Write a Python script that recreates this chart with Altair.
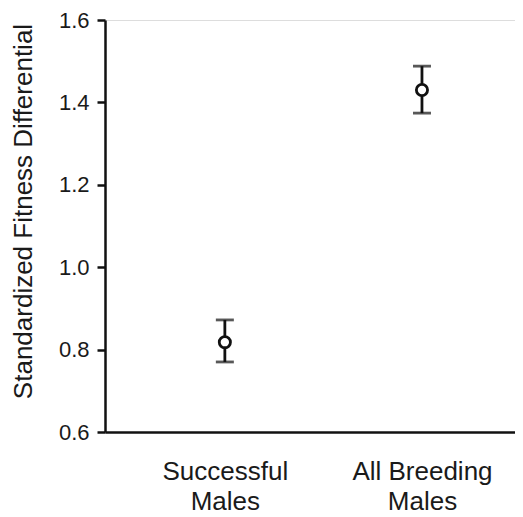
import altair as alt
import pandas as pd

categories = ["Successful\nMales", "All Breeding\nMales"]
means = [0.818, 1.430]
lows = [0.770, 1.374]
highs = [0.872, 1.488]
y_ticks = [0.6, 0.8, 1.0, 1.2, 1.4, 1.6]

df = pd.DataFrame({"group": categories, "mean": means, "low": lows, "high": highs})

FONT = "Liberation Sans"
INK = "#111111"
TXT = "#1a1a1a"

x_enc = alt.X(
    "group:N",
    sort=categories,
    scale=alt.Scale(type="point", padding=0.54, align=0.563),
    axis=alt.Axis(
        title=None,
        labelAngle=0,
        labelExpr="split(datum.label, '\\n')",
        labelFont=FONT,
        labelFontSize=26,
        labelLineHeight=30,
        labelColor=TXT,
        labelPadding=26,
        ticks=False,
        domainColor=INK,
        domainWidth=2.5,
    ),
)

y_scale = alt.Scale(domain=[0.6, 1.6], nice=False, zero=False)
y_axis = alt.Axis(
    title="Standardized Fitness Differential",
    titleFont=FONT,
    titleFontSize=26,
    titleFontWeight="normal",
    titleColor=TXT,
    titlePadding=22,
    titleY=191,
    values=y_ticks,
    format=".1f",
    labelFont=FONT,
    labelFontSize=22,
    labelColor=TXT,
    labelPadding=8,
    tickSize=8,
    tickWidth=2.5,
    tickColor=INK,
    domainColor=INK,
    domainWidth=2.5,
    grid=False,
)

base = alt.Chart(df)

rules = base.mark_rule(color=INK, strokeWidth=2.8).encode(
    x=x_enc,
    y=alt.Y("low:Q", scale=y_scale, axis=y_axis),
    y2="high:Q",
)
caps_hi = base.mark_tick(color=INK, thickness=2.8, size=18).encode(
    x=alt.X("group:N", sort=categories),
    y=alt.Y("high:Q"),
)
caps_lo = base.mark_tick(color=INK, thickness=2.8, size=18).encode(
    x=alt.X("group:N", sort=categories),
    y=alt.Y("low:Q"),
)
points = base.mark_point(
    shape="circle", filled=False, fill="white", fillOpacity=1,
    stroke=INK, strokeWidth=2.8, size=125, opacity=1,
).encode(
    x=alt.X("group:N", sort=categories),
    y=alt.Y("mean:Q"),
)

chart = (
    alt.layer(rules, caps_hi, caps_lo, points)
    .properties(
        width=410,
        height=412,
        autosize=alt.AutoSizeParams(type="none"),
        padding={"left": 97, "top": 12, "right": 0, "bottom": 84},
    )
    .configure_view(stroke=None)
    .configure(background="white")
)

chart.save("out.html", embed_options={"renderer": "svg", "actions": False})
